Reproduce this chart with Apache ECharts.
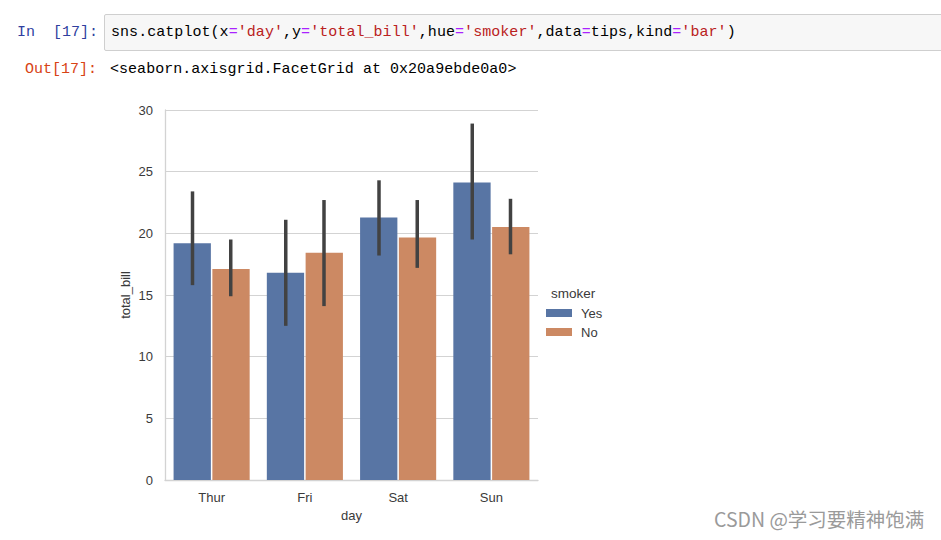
<!DOCTYPE html>
<html>
<head>
<meta charset="utf-8">
<script src="https://cdn.jsdelivr.net/npm/echarts@6/dist/echarts.min.js"></script>
<style>
  body { margin: 0; background: #fff; }
  #page { position: relative; width: 941px; height: 540px; overflow: hidden; }
  #chart { position: absolute; left: 0; top: 0; width: 941px; height: 540px; }
  .mono { position: absolute; font-family: 'Liberation Mono', 'DejaVu Sans Mono', monospace; font-size: 15px; white-space: pre; }
  .prompt-in { left: 17px; top: 24px; color: #303F9F; }
  .prompt-out { left: 25px; top: 61px; color: #D84315; }
  .cell { position: absolute; left: 104px; top: 14px; width: 860px; height: 35px; background: #f7f7f7; border: 1px solid #cfcfcf; border-radius: 2px; }
  .code { left: 111px; top: 24px; color: #000; letter-spacing: 0.05px; }
  .out { left: 110px; top: 61px; color: #000; letter-spacing: 0.03px; }
  .eq { color: #AA22FF; }
  .str { color: #BA2121; }
</style>
</head>
<body>
<div id="page">
  <div class="cell"></div>
  <div class="mono prompt-in">In  [17]:</div>
  <div class="mono code">sns.catplot(x<span class="eq">=</span><span class="str">'day'</span>,y<span class="eq">=</span><span class="str">'total_bill'</span>,hue<span class="eq">=</span><span class="str">'smoker'</span>,data<span class="eq">=</span>tips,kind<span class="eq">=</span><span class="str">'bar'</span>)</div>
  <div class="mono prompt-out">Out[17]:</div>
  <div class="mono out">&lt;seaborn.axisgrid.FacetGrid at 0x20a9ebde0a0&gt;</div>
  <div id="chart"></div>
</div>
<script>
// tips dataset, mean total_bill by day and smoker, with 95% CI
const days = ['Thur', 'Fri', 'Sat', 'Sun']
const yesMeans = [19.19, 16.81, 21.28, 24.12]
const noMeans = [17.11, 18.42, 19.66, 20.51]
const yesLow = [15.8, 12.5, 18.2, 19.5]
const yesHigh = [23.4, 21.1, 24.3, 28.9]
const noLow = [14.9, 14.1, 17.2, 18.3]
const noHigh = [19.5, 22.7, 22.7, 22.8]
const yTicks = [0, 5, 10, 15, 20, 25, 30]

const font = 'Liberation Sans, Arial, sans-serif'
const textColor = '#3a3a3a'
const gridColor = '#d3d3d3'

const chart = echarts.init( document.getElementById( 'chart' ), null, { renderer : 'svg' } )

const errorSeries = ( name, low, high, side ) => ( {
  type : 'custom',
  name,
  data : low.map( ( l, i ) => [i, l, high[i]] ),
  encode : { x : 0, y : [1, 2] },
  z : 10,
  silent : true,
  renderItem : ( params, api ) => {
    const band = api.size( [1, 0] )[0]
    const x = api.coord( [api.value( 0 ), 0] )[0] + side * band * 0.205
    const top = api.coord( [api.value( 0 ), api.value( 2 )] )[1]
    const bottom = api.coord( [api.value( 0 ), api.value( 1 )] )[1]
    return {
      type : 'line',
      shape : { x1 : x, y1 : top, x2 : x, y2 : bottom },
      style : { stroke : '#424242', lineWidth : 3.5 }
    }
  }
} )

chart.setOption( {
  animation : false,
  textStyle : { fontFamily : font },
  grid : {
    left : 165,
    right : 403,
    top : 110,
    bottom : 60
  },
  legend : {
    data : ['Yes', 'No'],
    orient : 'vertical',
    left : 546,
    top : 306,
    padding : 0,
    itemWidth : 26,
    itemHeight : 8,
    itemGap : 5,
    icon : 'rect',
    textStyle : { fontSize : 13, color : textColor, lineHeight : 14, padding : [0, 0, 0, 4] }
  },
  graphic : [
    {
      type : 'text',
      left : 551,
      top : 286,
      style : { text : 'smoker', font : '13.5px ' + font, fill : textColor }
    },
    {
      type : 'text',
      left : 714,
      top : 509,
      style : { text : 'CSDN @学习要精神饱满', font : '19.5px "Noto Sans CJK SC", sans-serif', fill : '#9a9a9a' }
    }
  ],
  xAxis : {
    type : 'category',
    data : days,
    name : 'day',
    nameLocation : 'middle',
    nameGap : 29,
    nameTextStyle : { fontSize : 13, color : textColor },
    axisLine : { lineStyle : { color : gridColor, width : 1.3 } },
    axisTick : { show : false },
    axisLabel : { fontSize : 13, color : textColor, margin : 11 }
  },
  yAxis : {
    type : 'value',
    min : yTicks[0],
    max : yTicks[yTicks.length - 1],
    interval : 5,
    name : 'total_bill',
    nameLocation : 'middle',
    nameGap : 33,
    nameTextStyle : { fontSize : 13, color : textColor },
    axisLine : { show : true, lineStyle : { color : gridColor, width : 1.3 } },
    axisTick : { show : false },
    axisLabel : { fontSize : 13, color : textColor, margin : 12 },
    splitLine : { lineStyle : { color : gridColor, width : 1.2 } }
  },
  series : [
    {
      name : 'Yes',
      type : 'bar',
      data : yesMeans,
      barWidth : '40%',
      barGap : '4%',
      itemStyle : { color : '#5875a4' }
    },
    {
      name : 'No',
      type : 'bar',
      data : noMeans,
      barWidth : '40%',
      barGap : '4%',
      itemStyle : { color : '#cc8963' }
    },
    errorSeries( 'Yes CI', yesLow, yesHigh, -1 ),
    errorSeries( 'No CI', noLow, noHigh, 1 )
  ]
} )
</script>
</body>
</html>
